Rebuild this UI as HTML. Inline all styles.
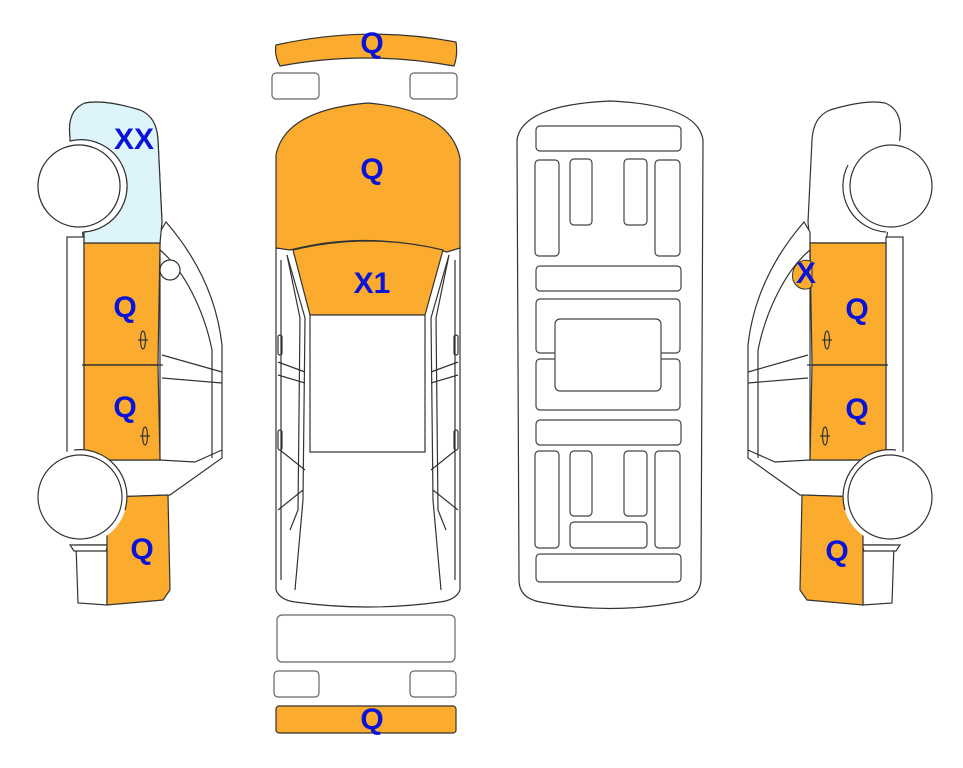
<!DOCTYPE html>
<html><head><meta charset="utf-8"><style>
html,body{margin:0;padding:0;background:#fff;}
svg{display:block}
text{font-family:"Liberation Sans",Arial,sans-serif;font-weight:bold;font-size:30px;fill:#0a14d8;text-anchor:middle}
</style></head><body>
<svg width="963" height="768" viewBox="0 0 963 768" xmlns="http://www.w3.org/2000/svg">
<defs>
<g id="car" stroke="#333" stroke-width="1.2" fill="#fff">
  <path d="M70,137 C68,120 72,108 85,103 C100,100 120,104 140,110 C152,115 157,125 158,140 L162,222 L160,243 L84,243 Z"/>
  <rect x="67" y="237" width="17" height="216"/>
  <path d="M160,232 L166,222 C192,252 216,292 222,345 L222,458 L170,495 L110,497 L110,460 L160,460 Z"/>
  <path d="M160,250 C184,270 204,310 212,350 L212,458" fill="none"/>
  <path d="M162,355 L222,372 M162,378 L222,383" fill="none"/>
  <path d="M160,460 L195,462 L222,450" fill="none"/>
  <path d="M84,243 L160,243 L158,365 L84,365 Z" fill="#fbab2e"/>
  <path d="M84,365 L158,365 L160,460 L84,460 Z" fill="#fbab2e"/>
  <line x1="82" y1="365" x2="163" y2="365"/>
  <ellipse cx="143" cy="340" rx="2.5" ry="9" fill="none"/>
  <line x1="138" y1="340" x2="148" y2="340"/>
  <ellipse cx="145" cy="436" rx="2.5" ry="9" fill="none"/>
  <line x1="140" y1="436" x2="150" y2="436"/>
  <path d="M76,545 L107,545 L107,605 L78,603 Z"/>
  <path d="M70,545 L108,545 L106,551 L74,551 Z"/>
  <path d="M107,497 L168,495 L170,590 L163,600 L107,605 Z" fill="#fbab2e"/>
  <circle cx="79" cy="186" r="46" stroke="none"/>
  <path d="M84,232 A46,46 0 0 0 122,165" fill="none"/>
  <circle cx="79" cy="186" r="41"/>
  <circle cx="80" cy="497" r="47" stroke="none"/>
  <path d="M74,450 A47,47 0 0 1 125,510" fill="none"/>
  <circle cx="80" cy="497" r="42"/>
</g>
</defs>

<g>
  <use href="#car"/>
  <circle cx="170" cy="270" r="10" fill="#fff" stroke="#333" stroke-width="1.2"/>
  <path d="M70,137 C68,120 72,108 85,103 C100,100 120,104 140,110 C152,115 157,125 158,140 L162,222 L160,243 L84,243 L84,232 A46,46 0 0 0 122,165 A46,46 0 0 0 70,141 Z" fill="#ddf4fb" stroke="#333" stroke-width="1.2"/>
  <circle cx="79" cy="186" r="41" fill="#fff" stroke="#333" stroke-width="1.2"/>
</g>
<g transform="translate(970,0) scale(-1,1)">
  <use href="#car"/>
  <path d="M158,262 C168,256 180,266 177,280 C172,292 160,290 158,286 Z" fill="#fbab2e" stroke="#333" stroke-width="1"/>
</g>

<g stroke="#333" stroke-width="1.2">
  <path d="M276,45 Q366,25 456,42 Q458,55 454,66 Q366,50 280,66 Q274,55 276,45 Z" fill="#fbab2e"/>
  <rect x="272" y="73" width="47" height="26" rx="4" fill="#fff" stroke="#666"/>
  <rect x="410" y="73" width="47" height="26" rx="4" fill="#fff" stroke="#666"/>
  <path d="M276,248 L276,590 Q280,600 295,602 Q368,612 440,602 Q456,600 460,590 L460,248 Z" fill="#fff"/>
  <path d="M276,248 L276,155 Q285,110 368,103 Q450,110 460,158 L460,248 L447,252 Q368,230 290,250 Z" fill="#fbab2e"/>
  <path d="M293,250 Q368,232 443,250 L425,315 L310,315 Z" fill="#fbab2e"/>
  <rect x="310" y="315" width="115" height="137" fill="#fff"/>
  <path d="M287,255 L305,318 L303,500 L295,590 M449,255 L431,318 L433,500 L441,590 M281,260 L281,580 M455,260 L455,580" fill="none"/>
  <path d="M287,255 L300,318 L298,510 L290,530 M449,255 L436,318 L438,510 L446,530" fill="none"/>
  <path d="M278,362 L305,372 M278,375 L305,383 M458,362 L431,372 M458,375 L431,383 M280,450 L305,470 M456,450 L431,470 M278,510 L303,490 M458,510 L433,490" fill="none"/>
  <rect x="278" y="335" width="4" height="20" rx="2" fill="none"/>
  <rect x="278" y="430" width="4" height="20" rx="2" fill="none"/>
  <rect x="454" y="335" width="4" height="20" rx="2" fill="none"/>
  <rect x="454" y="430" width="4" height="20" rx="2" fill="none"/>
  <rect x="277" y="615" width="178" height="47" rx="5" fill="#fff" stroke="#666"/>
  <rect x="274" y="671" width="45" height="26" rx="4" fill="#fff" stroke="#666"/>
  <rect x="410" y="671" width="46" height="26" rx="4" fill="#fff" stroke="#666"/>
  <rect x="276" y="706" width="180" height="27" rx="3" fill="#fbab2e"/>
</g>

<g stroke="#444" stroke-width="1.2" fill="#fff">
  <path d="M517,140 Q522,105 610,101 Q698,105 703,140 L701,580 Q700,598 680,602 Q610,615 540,602 Q519,598 519,580 Z" stroke="#333"/>
  <rect x="536" y="126" width="145" height="25" rx="4"/>
  <rect x="535" y="160" width="24" height="96" rx="4"/>
  <rect x="570" y="159" width="22" height="66" rx="4"/>
  <rect x="624" y="159" width="23" height="66" rx="4"/>
  <rect x="655" y="160" width="25" height="96" rx="4"/>
  <rect x="536" y="266" width="145" height="25" rx="4"/>
  <rect x="536" y="299" width="144" height="54" rx="4"/>
  <rect x="536" y="359" width="144" height="51" rx="4"/>
  <rect x="555" y="319" width="106" height="72" rx="5"/>
  <rect x="536" y="420" width="145" height="25" rx="4"/>
  <rect x="535" y="451" width="24" height="97" rx="4"/>
  <rect x="570" y="451" width="22" height="65" rx="4"/>
  <rect x="624" y="451" width="23" height="65" rx="4"/>
  <rect x="655" y="451" width="25" height="97" rx="4"/>
  <rect x="570" y="522" width="77" height="26" rx="4"/>
  <rect x="536" y="554" width="145" height="28" rx="4"/>
</g>

<text x="372" y="53">Q</text>
<text x="372" y="179">Q</text>
<text x="372" y="293">X1</text>
<text x="372" y="729">Q</text>
<text x="134" y="149">XX</text>
<text x="125" y="317">Q</text>
<text x="125" y="417">Q</text>
<text x="142" y="559">Q</text>
<text x="806" y="283">X</text>
<text x="857" y="319">Q</text>
<text x="857" y="419">Q</text>
<text x="837" y="561">Q</text>
</svg>
</body></html>
